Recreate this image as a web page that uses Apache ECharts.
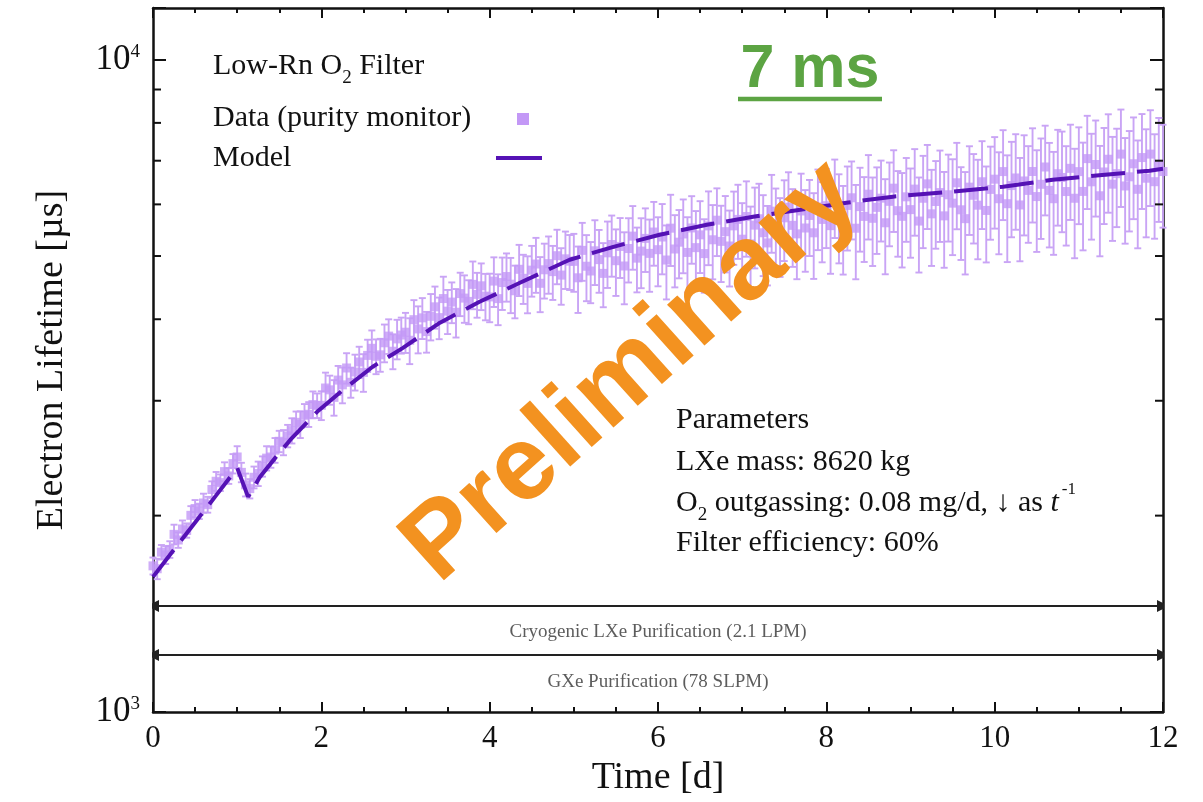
<!DOCTYPE html>
<html><head><meta charset="utf-8">
<script src="https://cdn.jsdelivr.net/npm/echarts@6/dist/echarts.min.js"></script>
<style>html,body{margin:0;padding:0;background:#fff}#c{width:1203px;height:802px}</style>
</head><body><div id="c"></div>
<script>
// ---- data ----
const timeDays = [
 0,0.05,0.1,0.15,0.2,0.25,0.3,0.35,0.4,0.45,0.5,0.55,0.6,0.65,0.7,0.75,0.8,0.85,0.9,0.95,
 1,1.05,1.1,1.15,1.2,1.25,1.3,1.35,1.4,1.45,1.5,1.55,1.6,1.65,1.7,1.75,1.8,1.85,1.9,1.95,
 2,2.05,2.1,2.15,2.2,2.25,2.3,2.35,2.4,2.45,2.5,2.55,2.6,2.65,2.7,2.75,2.8,2.85,2.9,2.95,
 3,3.05,3.1,3.15,3.2,3.25,3.3,3.35,3.4,3.45,3.5,3.55,3.6,3.65,3.7,3.75,3.8,3.85,3.9,3.95,
 4,4.05,4.1,4.15,4.2,4.25,4.3,4.35,4.4,4.45,4.5,4.55,4.6,4.65,4.7,4.75,4.8,4.85,4.9,4.95,
 5,5.05,5.1,5.15,5.2,5.25,5.3,5.35,5.4,5.45,5.5,5.55,5.6,5.65,5.7,5.75,5.8,5.85,5.9,5.95,
 6,6.05,6.1,6.15,6.2,6.25,6.3,6.35,6.4,6.45,6.5,6.55,6.6,6.65,6.7,6.75,6.8,6.85,6.9,6.95,
 7,7.05,7.1,7.15,7.2,7.25,7.3,7.35,7.4,7.45,7.5,7.55,7.6,7.65,7.7,7.75,7.8,7.85,7.9,7.95,
 8,8.05,8.1,8.15,8.2,8.25,8.3,8.35,8.4,8.45,8.5,8.55,8.6,8.65,8.7,8.75,8.8,8.85,8.9,8.95,
 9,9.05,9.1,9.15,9.2,9.25,9.3,9.35,9.4,9.45,9.5,9.55,9.6,9.65,9.7,9.75,9.8,9.85,9.9,9.95,
 10,10.05,10.1,10.15,10.2,10.25,10.3,10.35,10.4,10.45,10.5,10.55,10.6,10.65,10.7,10.75,10.8,10.85,10.9,10.95,
 11,11.05,11.1,11.15,11.2,11.25,11.3,11.35,11.4,11.45,11.5,11.55,11.6,11.65,11.7,11.75,11.8,11.85,11.9,11.95,12
];
const lifetime = [
 1675,1658,1758,1741,1775,1872,1835,1908,1898,2002,2051,2031,2091,2079,2193,2258,2247,2336,2301,2403,
 2460,2330,2230,2200,2290,2320,2380,2450,2460,2520,2600,2590,2650,2700,2780,2760,2850,2860,2960,2950,
 2952,3138,3118,3036,3227,3173,3368,3202,3320,3440,3316,3521,3610,3510,3528,3681,3769,3573,3732,3783,
 3821,3714,3994,3866,4020,3830,4042,4179,4023,4303,4116,4250,4100,4379,4310,4260,4524,4367,4501,4340,
 4328,4577,4302,4553,4651,4527,4423,4771,4622,4540,4757,4861,4541,4763,4867,4732,5006,4675,4951,4910,
 4907,4630,5101,4823,4743,5093,4937,4703,5057,5208,4918,5172,4827,5134,5364,4963,5088,5321,5047,5442,
 5113,5347,4930,5517,5126,5251,5405,5064,5521,5150,5388,5043,5561,5295,5674,5266,5449,5180,5562,5690,
 5306,5748,5218,5576,5703,5428,5237,5858,5580,5389,5722,5940,5572,5407,5862,5520,5770,5427,5945,5690,
 5972,5566,6178,5772,5543,5978,6141,5516,5953,5751,6220,5712,5937,6133,5623,6065,6353,5868,5752,6162,
 5890,6332,5657,6131,6450,5803,6061,6255,5762,6207,6026,6475,5886,5705,6376,6196,5983,6499,5873,6326,
 6558,6121,6736,6014,6412,6586,5988,6517,6304,6738,6168,6441,6846,6304,6121,6686,6598,6278,6814,6131,
 6735,6281,7052,6498,6907,6185,6727,7036,6444,6687,7165,6403,6613,6925,6328,7078,6581,7165,6500,6890,6737
];
const lifetimeErr = [
 50,60,45,55,52,65,50,58,48,66,62,55,70,58,64,75,66,78,64,82,
 95,80,90,75,88,100,85,105,92,110,98,115,105,120,108,130,115,125,140,128,
 150,175,160,190,165,200,180,170,210,190,220,200,235,215,205,245,230,220,260,240,
 270,300,285,320,290,275,330,310,295,345,320,305,350,335,360,330,380,345,370,355,
 370,400,385,420,395,440,410,430,400,455,425,470,440,460,490,450,480,465,500,475,
 500,540,520,560,510,580,545,530,590,560,575,545,610,580,600,565,625,595,640,610,
 620,660,640,690,650,630,700,670,655,710,680,650,720,690,675,705,730,690,715,740,
 720,760,735,790,750,770,730,800,765,745,810,780,760,800,825,790,770,815,840,800,
 830,870,850,900,860,880,840,910,875,855,920,885,900,870,935,890,910,880,950,905,
 920,960,940,990,950,975,930,1000,965,945,1010,980,955,1020,990,970,1040,1000,985,1030,
 1050,1090,1060,1120,1070,1100,1080,1140,1065,1110,1095,1130,1075,1150,1100,1120,1160,1090,1135,1170,
 1140,1180,1150,1200,1160,1190,1130,1210,1170,1150,1220,1180,1160,1230,1190,1175,1240,1200,1185,1250,1210
];
const modelTime = [0,0.25,0.5,0.75,1.0,1.13,1.27,1.45,1.63,1.95,2.26,2.61,2.97,3.41,3.88,4.36,4.95,5.47,6.02,6.58,7.13,7.69,8.24,8.79,9.49,10.1,10.69,11.31,11.84,12];
const modelLifetime = [1611,1775,1952,2148,2367,2137,2293,2450,2612,2885,3118,3382,3616,3952,4254,4550,4935,5165,5391,5583,5743,5888,6036,6166,6275,6385,6544,6662,6757,6805];
const yMinorTicks = [2000,3000,4000,5000,6000,7000,8000,9000];
const purificationLevels = [1454, 1223];          // arrow heights
const purificationLabelLevels = [1326, 1112];
const purificationLabels = ['Cryogenic LXe Purification (2.1 LPM)', 'GXe Purification (78 SLPM)'];
const xMin = 0, xMax = 12, yMin = 1000, yMax = 12000;

// ---- style ----
const SERIF = '"Liberation Serif","Times New Roman",serif';
const SANS = '"Liberation Sans",Arial,sans-serif';
const INK = '#111';
const dataColor = '#c398f6';
const barColor = '#c9a4f5';
const modelColor = '#5512b5';

const chart = echarts.init(document.getElementById('c'), null, {renderer: 'canvas'});

const axisCommon = {
  axisLine: {show: true, onZero: false, lineStyle: {color: INK, width: 2.5}},
  splitLine: {show: false}
};

const option = {
  animation: false,
  backgroundColor: '#fff',
  grid: {left: 153, right: 40, top: 8, bottom: 90},
  xAxis: [
    Object.assign({}, axisCommon, {
      type: 'value', min: xMin, max: xMax, interval: 2, position: 'bottom',
      axisTick: {inside: true, length: 10, lineStyle: {color: INK, width: 2}},
      minorTick: {show: true, splitNumber: 4, length: 5, lineStyle: {color: INK, width: 2}},
      axisLabel: {fontSize: 31, fontFamily: SERIF, color: INK, margin: 11},
      name: 'Time [d]', nameLocation: 'middle', nameGap: 44,
      nameTextStyle: {fontSize: 38, fontFamily: SERIF, color: INK}
    }),
    Object.assign({}, axisCommon, {
      type: 'value', min: xMin, max: xMax, interval: 2, position: 'top',
      axisTick: {inside: true, length: 10, lineStyle: {color: INK, width: 2}},
      minorTick: {show: true, splitNumber: 4, length: 5, lineStyle: {color: INK, width: 2}},
      axisLabel: {show: false}
    })
  ],
  yAxis: [
    Object.assign({}, axisCommon, {
      type: 'log', logBase: 10, min: yMin, max: yMax, position: 'left',
      axisTick: {inside: true, length: 13, lineStyle: {color: INK, width: 2}},
      axisLabel: {
        margin: 13, color: INK,
        formatter: function (v) {
          if (Math.abs(v - 1000) < 1) return '{b|10}{s|3}';
          if (Math.abs(v - 10000) < 1) return '{b|10}{s|4}';
          return '';
        },
        rich: {
          b: {fontSize: 35, fontFamily: SERIF, color: INK, lineHeight: 35},
          s: {fontSize: 19, fontFamily: SERIF, color: INK, lineHeight: 20, verticalAlign: 'top'}
        }
      },
      name: 'Electron Lifetime [µs]', nameLocation: 'middle', nameGap: 82, nameRotate: 90,
      nameTextStyle: {fontSize: 38, fontFamily: SERIF, color: INK}
    }),
    Object.assign({}, axisCommon, {
      type: 'log', logBase: 10, min: yMin, max: yMax, position: 'right',
      axisTick: {inside: true, length: 13, lineStyle: {color: INK, width: 2}},
      axisLabel: {show: false}
    })
  ],
  series: [
    {
      type: 'lines', coordinateSystem: 'cartesian2d', xAxisIndex: 0, yAxisIndex: 0,
      silent: true, z: 3,
      symbol: ['triangle', 'triangle'], symbolSize: 12,
      lineStyle: {color: '#222', width: 2, opacity: 1},
      data: purificationLevels.map(v => ({coords: [[xMin, v], [xMax, v]]}))
    },
    {
      type: 'scatter', xAxisIndex: 0, yAxisIndex: 0, silent: true, z: 3,
      symbolSize: 1, itemStyle: {color: 'rgba(0,0,0,0)'},
      data: purificationLabelLevels.map(v => [(xMin + xMax) / 2, v]),
      label: {
        show: true, position: 'inside', fontSize: 19, fontFamily: SERIF, color: '#333',
        formatter: p => purificationLabels[p.dataIndex]
      }
    },
    {
      type: 'custom', name: 'Data error', xAxisIndex: 0, yAxisIndex: 0, silent: true, z: 4,
      data: timeDays.map((t, i) => [t, lifetime[i] - lifetimeErr[i], lifetime[i] + lifetimeErr[i]]),
      encode: {x: 0, y: [1, 2]},
      renderItem: function (params, api) {
        const x = api.value(0);
        const lo = api.coord([x, api.value(1)]);
        const hi = api.coord([x, api.value(2)]);
        const w = 3.5;
        const st = {stroke: barColor, lineWidth: 1.9};
        return {type: 'group', children: [
          {type: 'line', shape: {x1: lo[0], y1: lo[1], x2: hi[0], y2: hi[1]}, style: st},
          {type: 'line', shape: {x1: lo[0] - w, y1: lo[1], x2: lo[0] + w, y2: lo[1]}, style: st},
          {type: 'line', shape: {x1: hi[0] - w, y1: hi[1], x2: hi[0] + w, y2: hi[1]}, style: st}
        ]};
      }
    },
    {
      type: 'scatter', name: 'Data (purity monitor)', xAxisIndex: 0, yAxisIndex: 0, silent: true, z: 5,
      symbol: 'rect', symbolSize: 9, itemStyle: {color: dataColor},
      data: timeDays.map((t, i) => [t, lifetime[i]])
    },
    {
      type: 'line', name: 'Model', xAxisIndex: 0, yAxisIndex: 0, silent: true, z: 6,
      showSymbol: false, symbol: 'none',
      lineStyle: {color: modelColor, width: 4, type: [34, 12]},
      data: modelTime.map((t, i) => [t, modelLifetime[i]])
    },
    {
      type: 'custom', xAxisIndex: 0, yAxisIndex: 0, silent: true, z: 10,
      data: yMinorTicks.map(v => [xMin, v]),
      encode: {x: 0, y: 1},
      renderItem: function (params, api) {
        const v = api.value(1);
        const l = api.coord([xMin, v]);
        const r = api.coord([xMax, v]);
        const st = {stroke: INK, lineWidth: 2};
        return {type: 'group', children: [
          {type: 'line', shape: {x1: l[0], y1: l[1], x2: l[0] + 8, y2: l[1]}, style: st},
          {type: 'line', shape: {x1: r[0] - 8, y1: r[1], x2: r[0], y2: r[1]}, style: st}
        ]};
      }
    }
  ],
  graphic: [
    // legend
    {type: 'text', x: 213, y: 66, z: 20, style: {
      text: '{a|Low-Rn O}{s|2}{a| Filter}', align: 'left', verticalAlign: 'middle',
      rich: {
        a: {fontSize: 30, fontFamily: SERIF, fill: INK, lineHeight: 44},
        s: {fontSize: 19, fontFamily: SERIF, fill: INK, lineHeight: 6, verticalAlign: 'bottom'}
      }}},
    {type: 'text', x: 213, y: 118, z: 20, style: {
      text: 'Data (purity monitor)', font: '30px ' + SERIF, fill: INK, align: 'left', verticalAlign: 'middle'}},
    {type: 'text', x: 213, y: 158, z: 20, style: {
      text: 'Model', font: '30px ' + SERIF, fill: INK, align: 'left', verticalAlign: 'middle'}},
    {type: 'rect', z: 20, shape: {x: 517, y: 113, width: 12, height: 12}, style: {fill: dataColor}},
    {type: 'line', z: 20, shape: {x1: 496, y1: 158, x2: 542, y2: 158}, style: {stroke: modelColor, lineWidth: 4}},
    // parameters
    {type: 'text', x: 676, y: 420, z: 20, style: {
      text: 'Parameters', font: '30px ' + SERIF, fill: INK, align: 'left', verticalAlign: 'middle'}},
    {type: 'text', x: 676, y: 462, z: 20, style: {
      text: 'LXe mass: 8620 kg', font: '30px ' + SERIF, fill: INK, align: 'left', verticalAlign: 'middle'}},
    {type: 'text', x: 676, y: 503, z: 20, style: {
      text: '{a|O}{s|2}{a| outgassing: 0.08 mg/d, ↓ as }{i|t}{p|-1}', align: 'left', verticalAlign: 'middle',
      rich: {
        a: {fontSize: 30, fontFamily: SERIF, fill: INK, lineHeight: 44},
        i: {fontSize: 30, fontFamily: SERIF, fontStyle: 'italic', fill: INK, lineHeight: 44},
        s: {fontSize: 19, fontFamily: SERIF, fill: INK, lineHeight: 6, verticalAlign: 'bottom'},
        p: {fontSize: 17, fontFamily: SERIF, fill: INK, lineHeight: 12, verticalAlign: 'top', padding: [0, 0, 0, 3]}
      }}},
    {type: 'text', x: 676, y: 543, z: 20, style: {
      text: 'Filter efficiency: 60%', font: '30px ' + SERIF, fill: INK, align: 'left', verticalAlign: 'middle'}},
    // 7 ms
    {type: 'text', x: 810, y: 70, z: 20, style: {
      text: '7 ms', font: 'bold 61px ' + SANS, fill: '#5ca443', align: 'center', verticalAlign: 'middle'}},
    {type: 'line', z: 20, shape: {x1: 738, y1: 99, x2: 882, y2: 99}, style: {stroke: '#5ca443', lineWidth: 4.5}},
    // Preliminary watermark
    {type: 'text', x: 632, y: 372, z: 50, rotation: 42 * Math.PI / 180, style: {
      text: 'Preliminary', font: 'bold 105px ' + SANS, fill: '#f39220', align: 'center', verticalAlign: 'middle'}}
  ]
};
chart.setOption(option);
</script>
</body></html>
